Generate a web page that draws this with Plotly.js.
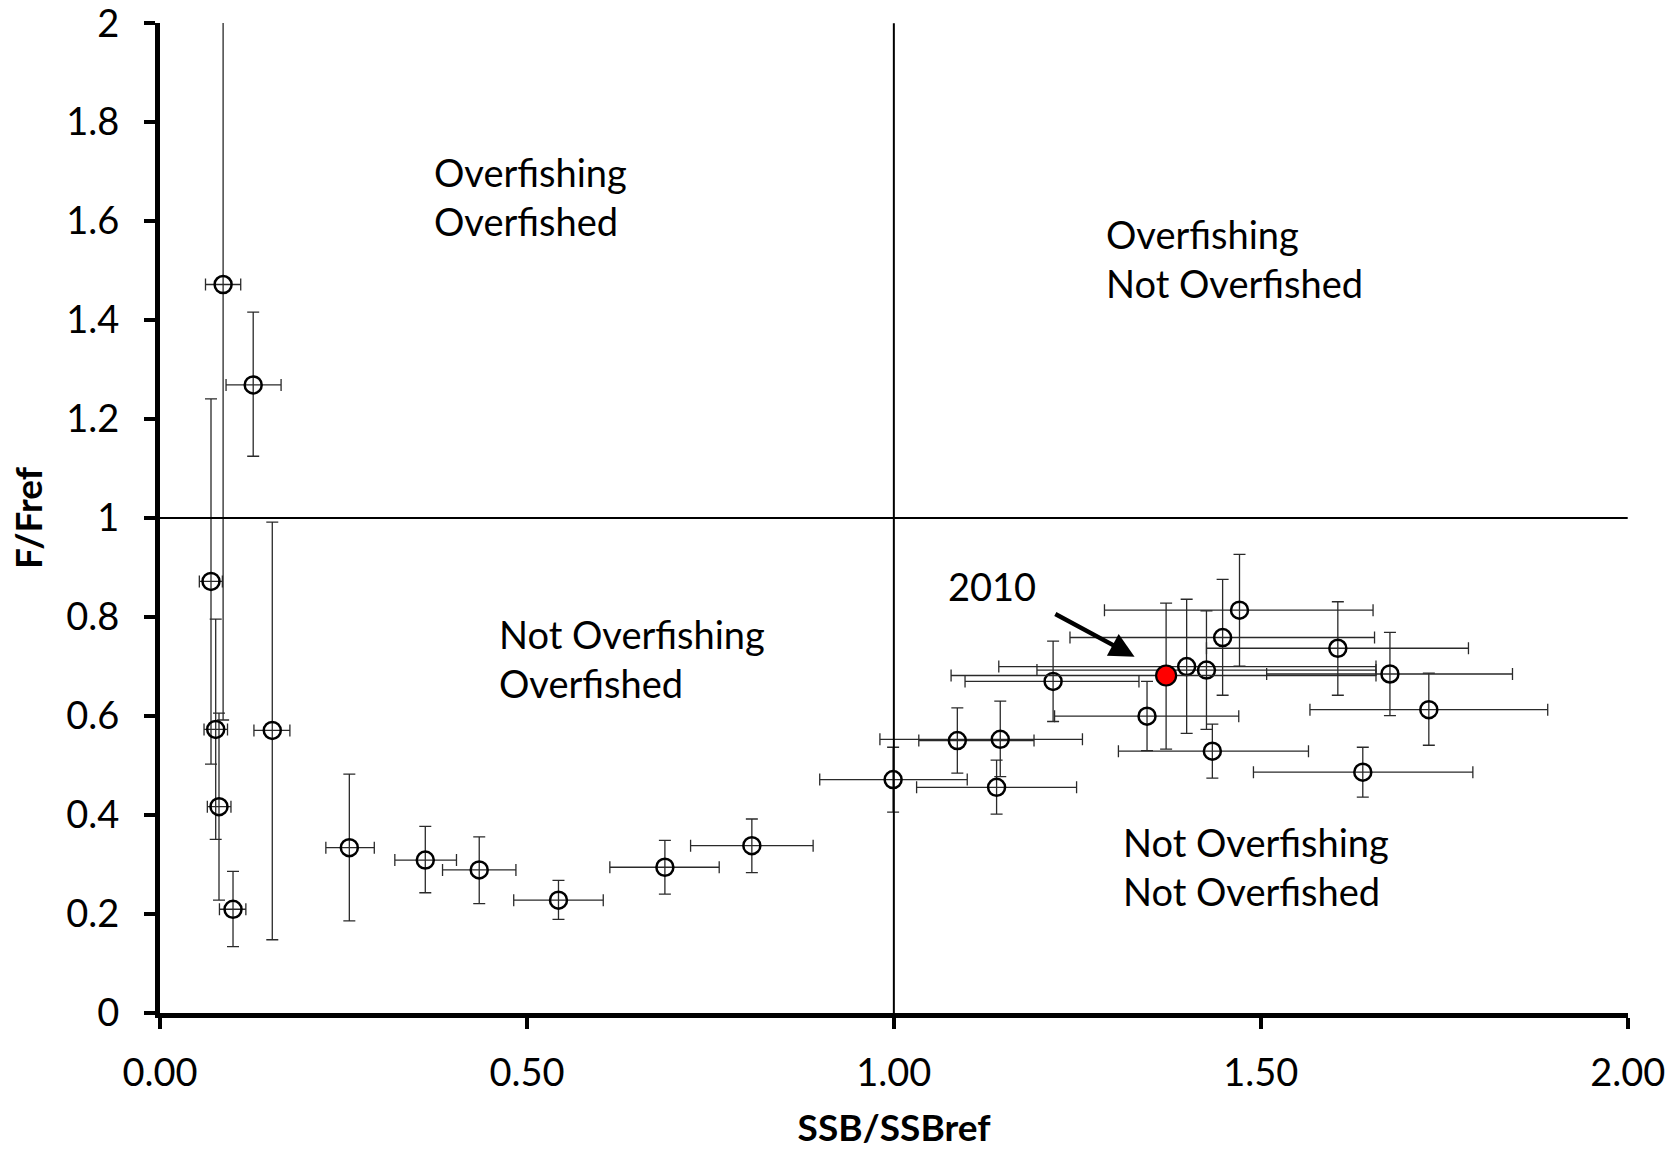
<!DOCTYPE html>
<html>
<head>
<meta charset="utf-8">
<script src="https://cdn.plot.ly/plotly-3.0.1.min.js"></script>
<style>
html,body{margin:0;padding:0;background:#fff;}
#chart{width:1675px;height:1151px;}
</style>
</head>
<body>
<div id="chart"></div>
<script>
// Historical estimates (open circles)
const ssb    = [0.086, 0.127, 0.0695, 0.0759, 0.0804, 0.0995, 0.153, 0.258, 0.3615, 0.435, 0.543, 0.688, 0.8065, 0.999, 1.0865, 1.145, 1.140, 1.217, 1.345, 1.399, 1.426, 1.448, 1.471, 1.434, 1.605, 1.676, 1.729, 1.639];
const ssbLow = [0.062, 0.090, 0.0536, 0.060, 0.0645, 0.081, 0.128, 0.226, 0.320, 0.385, 0.482, 0.613, 0.723, 0.899, 1.034, 0.981, 1.031, 1.097, 1.219, 1.143, 1.195, 1.240, 1.287, 1.306, 1.426, 1.508, 1.567, 1.490];
const ssbHigh= [0.110, 0.165, 0.085, 0.092, 0.0967, 0.117, 0.177, 0.292, 0.404, 0.485, 0.604, 0.762, 0.890, 1.100, 1.191, 1.257, 1.249, 1.334, 1.470, 1.657, 1.657, 1.655, 1.653, 1.565, 1.783, 1.843, 1.891, 1.789];
const fRel   = [1.472, 1.269, 0.872, 0.573, 0.417, 0.2096, 0.571, 0.334, 0.309, 0.289, 0.228, 0.2945, 0.338, 0.4716, 0.5505, 0.553, 0.456, 0.670, 0.5997, 0.700, 0.693, 0.7587, 0.814, 0.529, 0.737, 0.685, 0.613, 0.4866];
const fLow   = [0.592, 1.125, 0.503, 0.351, 0.228, 0.134, 0.148, 0.186, 0.243, 0.221, 0.189, 0.240, 0.2836, 0.406, 0.4845, 0.4777, 0.4017, 0.589, 0.530, 0.565, 0.573, 0.642, 0.701, 0.4744, 0.642, 0.601, 0.541, 0.436];
const fHigh  = [2.600, 1.416, 1.241, 0.796, 0.606, 0.286, 0.992, 0.4825, 0.377, 0.356, 0.268, 0.349, 0.392, 0.537, 0.6165, 0.630, 0.511, 0.7514, 0.670, 0.836, 0.8126, 0.876, 0.9265, 0.5836, 0.831, 0.769, 0.6867, 0.537];

// Terminal year (2010, red)
const lastYear = ['2010'];
const ssbLast = [1.371];
const ssbLastLow = [1.078];
const ssbLastHigh = [1.657];
const fLast = [0.682];
const fLastLow = [0.533];
const fLastHigh = [0.828];

// Quadrant labels
const quadrantLabels = [
  'Overfishing<br>Overfished',
  'Overfishing<br>Not Overfished',
  'Not Overfishing<br>Overfished',
  'Not Overfishing<br>Not Overfished'
];
const xTickVals = [0, 0.5, 1, 1.5, 2];
const yTickVals = [0, 0.2, 0.4, 0.6, 0.8, 1, 1.2, 1.4, 1.6, 1.8, 2];
const yTickText = ['0', '0.2', '0.4', '0.6', '0.8', '1', '1.2', '1.4', '1.6', '1.8', '2'];

const FONT = 'Lato, "Open Sans", sans-serif';
const diff = (a, b) => a.map((v, i) => v - b[i]);

const ebStyle = {color: '#2a2a2a', thickness: 1.3, width: 6};

const traceHist = {
  type: 'scatter', mode: 'markers',
  x: ssb, y: fRel,
  error_x: Object.assign({type: 'data', symmetric: false, array: diff(ssbHigh, ssb), arrayminus: diff(ssb, ssbLow)}, ebStyle),
  error_y: Object.assign({type: 'data', symmetric: false, array: diff(fHigh, fRel), arrayminus: diff(fRel, fLow)}, ebStyle),
  marker: {symbol: 'circle-open', size: 17, color: '#000', line: {width: 2.5, color: '#000'}},
  showlegend: false, hoverinfo: 'x+y'
};

const traceLast = {
  type: 'scatter', mode: 'markers',
  x: ssbLast, y: fLast, text: lastYear,
  error_x: Object.assign({type: 'data', symmetric: false, array: diff(ssbLastHigh, ssbLast), arrayminus: diff(ssbLast, ssbLastLow)}, ebStyle),
  error_y: Object.assign({type: 'data', symmetric: false, array: diff(fLastHigh, fLast), arrayminus: diff(fLast, fLastLow)}, ebStyle),
  marker: {symbol: 'circle', size: 20, color: '#ff0000', line: {width: 2.2, color: '#000'}},
  showlegend: false
};

const labelFont = {family: FONT, size: 38, color: '#000'};
const quadPos = [[0.371, 1.65], [1.287, 1.525], [0.4587, 0.716], [1.309, 0.297]];
const annotations = quadrantLabels.map((t, i) => ({
  x: quadPos[i][0], y: quadPos[i][1], xref: 'x', yref: 'y',
  text: t, showarrow: false, xanchor: 'left', yanchor: 'middle', align: 'left',
  font: labelFont
}));
annotations.push({
  x: 1.0705, y: 0.862, xref: 'x', yref: 'y', text: lastYear[0], showarrow: false,
  xanchor: 'left', yanchor: 'middle', font: labelFont
});
annotations.push({
  x: 1.328, y: 0.720, xref: 'x', yref: 'y',
  ax: 1.218, ay: 0.808, axref: 'x', ayref: 'y',
  text: '', showarrow: true, arrowhead: 2, arrowsize: 1.1, arrowwidth: 4.5, arrowcolor: '#000'
});

const layout = {
  width: 1675, height: 1151,
  paper_bgcolor: '#fff', plot_bgcolor: '#fff',
  margin: {l: 160, r: 47, t: 23, b: 138},
  font: {family: FONT, color: '#000'},
  xaxis: {
    range: [0, 2.0004], tickvals: xTickVals, tickformat: '.2f',
    showgrid: false, zeroline: false,
    showline: true, linewidth: 5, linecolor: '#000',
    ticks: 'outside', ticklen: 11, tickwidth: 4, tickcolor: '#000',
    tickfont: {family: FONT, size: 38, color: '#000'},
    ticklabelstandoff: 11, ticklabeloverflow: 'allow',
    title: {text: '<b>SSB/SSBref</b>', font: {family: FONT, size: 37, color: '#000'}, standoff: 24}
  },
  yaxis: {
    range: [0, 2.0004], tickvals: yTickVals, ticktext: yTickText,
    showgrid: false, zeroline: false,
    showline: true, linewidth: 5, linecolor: '#000',
    ticks: 'outside', ticklen: 11, tickwidth: 4, tickcolor: '#000',
    tickfont: {family: FONT, size: 38, color: '#000'},
    ticklabelstandoff: 17, ticklabeloverflow: 'allow',
    title: {text: '<b>F/Fref</b>', font: {family: FONT, size: 37, color: '#000'}, standoff: 14}
  },
  shapes: [
    {type: 'line', xref: 'x', yref: 'y', x0: 1, x1: 1, y0: 0, y1: 2, line: {color: '#000', width: 2}},
    {type: 'line', xref: 'x', yref: 'y', x0: 0, x1: 2, y0: 1, y1: 1, line: {color: '#000', width: 2}}
  ],
  annotations: annotations
};

Plotly.newPlot('chart', [traceHist, traceLast], layout, {staticPlot: true, displayModeBar: false});
</script>
</body>
</html>
